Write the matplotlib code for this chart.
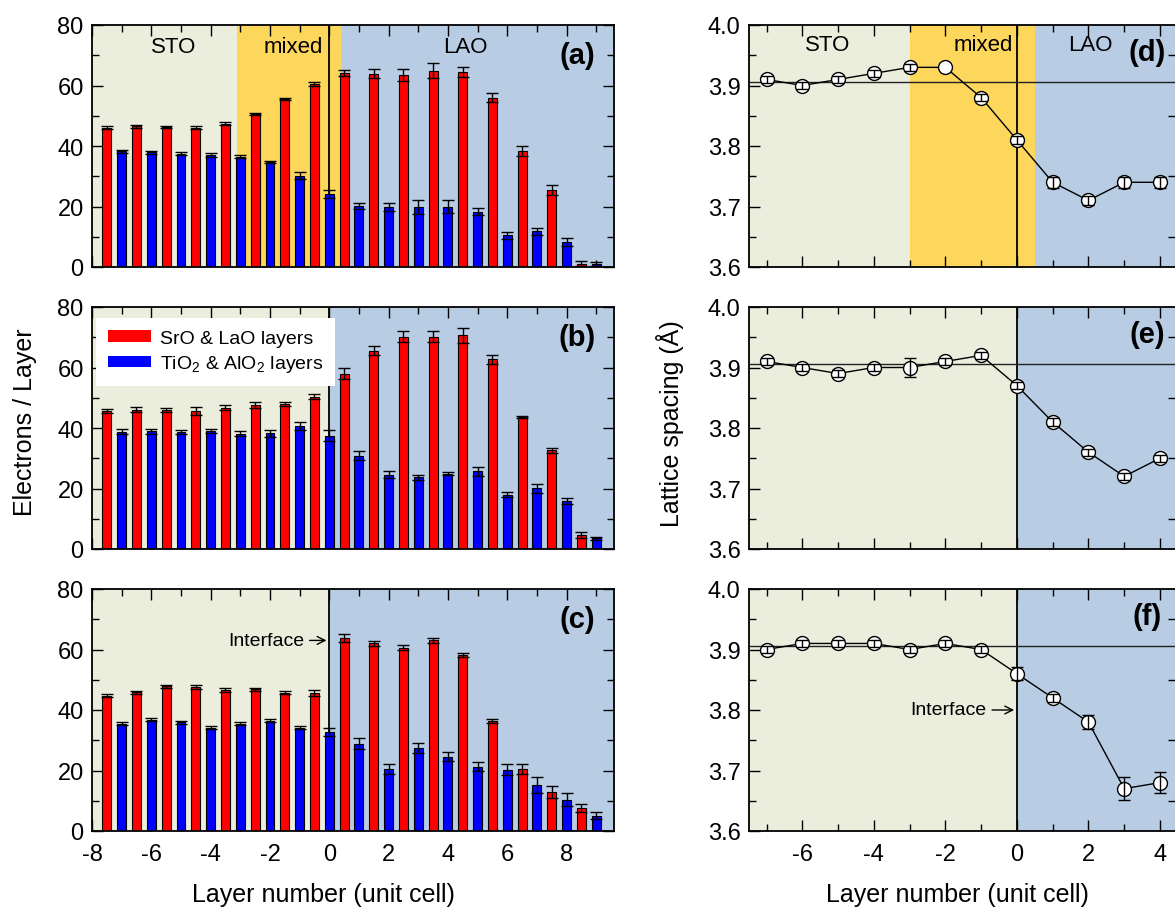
import numpy as np
import matplotlib
matplotlib.use('Agg')
import matplotlib.pyplot as plt
from matplotlib import font_manager
from matplotlib.patches import Patch
from matplotlib.ticker import MultipleLocator, FormatStrFormatter

names = {f.name for f in font_manager.fontManager.ttflist}
fam = 'Liberation Sans Narrow' if 'Liberation Sans Narrow' in names else 'Liberation Sans'
plt.rcParams['font.family'] = [fam, 'DejaVu Sans']
plt.rcParams['mathtext.fontset'] = 'custom'
plt.rcParams['mathtext.rm'] = fam
plt.rcParams['axes.unicode_minus'] = False

# ---- data: electrons per layer (left column) ----
layers = np.arange(-7, 10)          # TiO2/AlO2 layers; SrO/LaO sit half a cell lower
a_red = [46.0, 46.5, 46.3, 46.1, 47.3, 50.6, 55.5, 60.5, 64.2, 63.9, 63.6, 64.9, 64.4, 55.9, 38.4, 25.4, 1.1]
a_red_err = [0.5, 0.5, 0.4, 0.5, 0.5, 0.4, 0.4, 0.8, 1.0, 1.5, 2.0, 2.4, 1.6, 1.5, 1.7, 1.7, 0.8]
a_blue = [38.2, 37.9, 37.5, 37.1, 36.5, 34.8, 30.2, 24.1, 20.1, 19.8, 19.8, 19.9, 18.3, 10.5, 11.8, 8.3, 0.9]
a_blue_err = [0.4, 0.4, 0.5, 0.6, 0.5, 0.4, 1.1, 1.4, 1.0, 1.2, 2.2, 2.1, 1.1, 1.2, 1.2, 1.2, 0.6]

b_red = [45.7, 46.0, 46.0, 45.7, 46.7, 47.6, 48.0, 50.3, 58.0, 65.6, 70.2, 70.2, 70.6, 62.7, 43.6, 32.6, 4.6]
b_red_err = [0.6, 0.8, 0.7, 1.4, 0.9, 1.0, 0.6, 0.8, 1.7, 1.4, 1.8, 1.8, 2.6, 1.4, 0.4, 0.9, 1.1]
b_blue = [38.8, 38.9, 38.7, 39.0, 38.1, 38.2, 40.7, 37.4, 30.8, 24.6, 23.7, 24.9, 25.7, 18.0, 20.1, 15.9, 3.5]
b_blue_err = [0.8, 0.8, 0.6, 0.7, 0.9, 1.2, 1.2, 1.8, 1.5, 1.1, 0.8, 0.6, 1.5, 0.7, 1.5, 1.0, 0.5]

c_red = [44.7, 45.8, 47.8, 47.7, 46.6, 46.8, 45.7, 45.6, 63.9, 62.1, 60.6, 63.1, 58.2, 36.4, 20.5, 13.0, 7.7]
c_red_err = [0.5, 0.4, 0.6, 0.6, 0.7, 0.6, 0.5, 0.9, 1.3, 0.8, 0.8, 0.8, 0.6, 0.6, 1.5, 2.0, 1.3]
c_blue = [35.4, 36.8, 35.9, 34.2, 35.4, 36.4, 34.2, 32.7, 28.9, 20.5, 27.5, 24.6, 21.2, 20.3, 15.2, 10.4, 5.1]
c_blue_err = [0.5, 0.5, 0.5, 0.5, 0.5, 0.5, 0.6, 1.3, 1.7, 1.5, 1.6, 1.4, 1.5, 1.7, 2.5, 2.1, 1.1]

# ---- data: lattice spacing (right column) ----
layers_r = np.arange(-7, 5)
d_vals = [3.91, 3.90, 3.91, 3.92, 3.93, 3.93, 3.88, 3.81, 3.74, 3.71, 3.74, 3.74]
d_err = [0.006, 0.006, 0.006, 0.006, 0.006, 0.0, 0.006, 0.006, 0.009, 0.008, 0.009, 0.009]
e_vals = [3.91, 3.90, 3.89, 3.90, 3.90, 3.91, 3.92, 3.87, 3.81, 3.76, 3.72, 3.75]
e_err = [0.006, 0.006, 0.006, 0.006, 0.016, 0.006, 0.006, 0.006, 0.006, 0.006, 0.006, 0.006]
f_vals = [3.90, 3.91, 3.91, 3.91, 3.90, 3.91, 3.90, 3.86, 3.82, 3.78, 3.67, 3.68]
f_err = [0.006, 0.006, 0.006, 0.006, 0.006, 0.006, 0.006, 0.011, 0.006, 0.011, 0.019, 0.017]
sto_lattice = 3.905

c_sto = '#ebeedd'
c_mix = '#fdd65c'
c_lao = '#b8cce4'

fig = plt.figure(figsize=(11.75, 9.12), dpi=100)

lw_l, lw_w = 92 / 1175, 522 / 1175
rw_l = 749 / 1175
rw_w = 1 - rw_l
bottoms = [1 - 268 / 912, 1 - 550 / 912, 1 - 832 / 912]
h = 242 / 912

TICK = 17
REG = 16
PAN = 21
LAB = 18
INT = 14

def style(ax, ymaj, ymin):
    ax.tick_params(which='both', direction='in', top=True, right=True, width=1, labelsize=TICK)
    ax.tick_params(which='major', length=8)
    ax.tick_params(which='minor', length=5)
    ax.tick_params(axis='x', pad=9)
    ax.tick_params(axis='y', pad=6)
    ax.xaxis.set_major_locator(MultipleLocator(2))
    ax.xaxis.set_minor_locator(MultipleLocator(1))
    ax.yaxis.set_major_locator(MultipleLocator(ymaj))
    ax.yaxis.set_minor_locator(MultipleLocator(ymin))
    for s in ax.spines.values():
        s.set_linewidth(1.3)

# left column
left_sets = [(a_red, a_red_err, a_blue, a_blue_err, '(a)'),
             (b_red, b_red_err, b_blue, b_blue_err, '(b)'),
             (c_red, c_red_err, c_blue, c_blue_err, '(c)')]
for i, (rv, re, bv, be, lab) in enumerate(left_sets):
    ax = fig.add_axes([lw_l, bottoms[i], lw_w, h])
    if i == 0:
        ax.axvspan(-8, -3.1, color=c_sto, lw=0)
        ax.axvspan(-3.1, 0.4, color=c_mix, lw=0)
        ax.axvspan(0.4, 9.6, color=c_lao, lw=0)
        ax.text(-5.25, 73, 'STO', fontsize=REG, ha='center', va='center')
        ax.text(-1.2, 73, 'mixed', fontsize=REG, ha='center', va='center')
        ax.text(4.6, 73, 'LAO', fontsize=REG, ha='center', va='center')
    else:
        ax.axvspan(-8, 0, color=c_sto, lw=0)
        ax.axvspan(0, 9.6, color=c_lao, lw=0)
    ax.axvline(0, color='black', lw=1.3, zorder=1)
    ek = dict(elinewidth=1, capthick=1, ecolor='black')
    ax.bar(layers - 0.5, rv, width=0.3, color='#ff0000', edgecolor='black', lw=0.8,
           yerr=re, capsize=4, error_kw=ek, zorder=2)
    ax.bar(layers, bv, width=0.3, color='#0000ff', edgecolor='black', lw=0.8,
           yerr=be, capsize=4, error_kw=ek, zorder=2)
    ax.set_xlim(-8, 9.6)
    ax.set_ylim(0, 80)
    style(ax, 20, 10)
    ax.text(8.35, 70, lab, fontsize=PAN, fontweight='bold', ha='center', va='center')
    if i < 2:
        ax.tick_params(labelbottom=False)
    if i == 1:
        hs = [Patch(facecolor='#ff0000', edgecolor='none'), Patch(facecolor='#0000ff', edgecolor='none')]
        leg = ax.legend(hs, ['SrO & LaO layers', 'TiO$_2$ & AlO$_2$ layers'], loc='upper left',
                        bbox_to_anchor=(0.008, 0.955), fontsize=14, frameon=True, fancybox=False,
                        handlelength=2.2, handleheight=0.55, handletextpad=0.5, labelspacing=0.35,
                        borderpad=0.6, borderaxespad=0)
        leg.get_frame().set_facecolor('white')
        leg.get_frame().set_edgecolor('none')
        leg.get_frame().set_alpha(1)
    if i == 2:
        ax.annotate('Interface', xy=(0, 63), xytext=(-0.85, 63), fontsize=INT,
                    ha='right', va='center',
                    arrowprops=dict(arrowstyle='->', color='black', lw=1))

# right column
right_sets = [(d_vals, d_err, '(d)'), (e_vals, e_err, '(e)'), (f_vals, f_err, '(f)')]
for i, (vals, err, lab) in enumerate(right_sets):
    ax = fig.add_axes([rw_l, bottoms[i], rw_w, h])
    if i == 0:
        ax.axvspan(-7.5, -3, color=c_sto, lw=0)
        ax.axvspan(-3, 0.5, color=c_mix, lw=0)
        ax.axvspan(0.5, 4.5, color=c_lao, lw=0)
        ax.text(-5.3, 3.967, 'STO', fontsize=REG, ha='center', va='center')
        ax.text(-0.95, 3.967, 'mixed', fontsize=REG, ha='center', va='center')
        ax.text(2.05, 3.967, 'LAO', fontsize=REG, ha='center', va='center')
    else:
        ax.axvspan(-7.5, 0, color=c_sto, lw=0)
        ax.axvspan(0, 4.5, color=c_lao, lw=0)
    ax.axvline(0, color='black', lw=1.3, zorder=1)
    ax.axhline(sto_lattice, color='#222222', lw=1, zorder=1)
    ax.plot(layers_r, vals, color='black', lw=1, marker='o', ms=10,
            mfc='white', mec='black', mew=1, zorder=3)
    err = np.array(err)
    m = err > 0
    ax.errorbar(layers_r[m], np.array(vals)[m], yerr=err[m], fmt='none', ecolor='black',
                elinewidth=1, capsize=4.5, capthick=1, zorder=4)
    ax.set_xlim(-7.49, 4.42)
    ax.set_ylim(3.6, 4.0)
    style(ax, 0.1, 0.05)
    ax.spines['right'].set_visible(False)
    ax.tick_params(right=False)
    ax.yaxis.set_major_formatter(FormatStrFormatter('%.1f'))
    ax.text(3.65, 3.955, lab, fontsize=PAN, fontweight='bold', ha='center', va='center')
    if i < 2:
        ax.tick_params(labelbottom=False)
    if i == 2:
        ax.annotate('Interface', xy=(0, 3.80), xytext=(-0.85, 3.80), fontsize=INT,
                    ha='right', va='center',
                    arrowprops=dict(arrowstyle='->', color='black', lw=1))

fig.text(25 / 1175, 0.537, 'Electrons / Layer', rotation=90, fontsize=LAB, ha='center', va='center')
fig.text(670 / 1175, 0.535, 'Lattice spacing (Å)', rotation=90, fontsize=LAB, ha='center', va='center')
fig.text(323 / 1175, 0.019, 'Layer number (unit cell)', fontsize=LAB, ha='center', va='center')
fig.text(957 / 1175, 0.019, 'Layer number (unit cell)', fontsize=LAB, ha='center', va='center')

fig.savefig('out.png', dpi=100)
